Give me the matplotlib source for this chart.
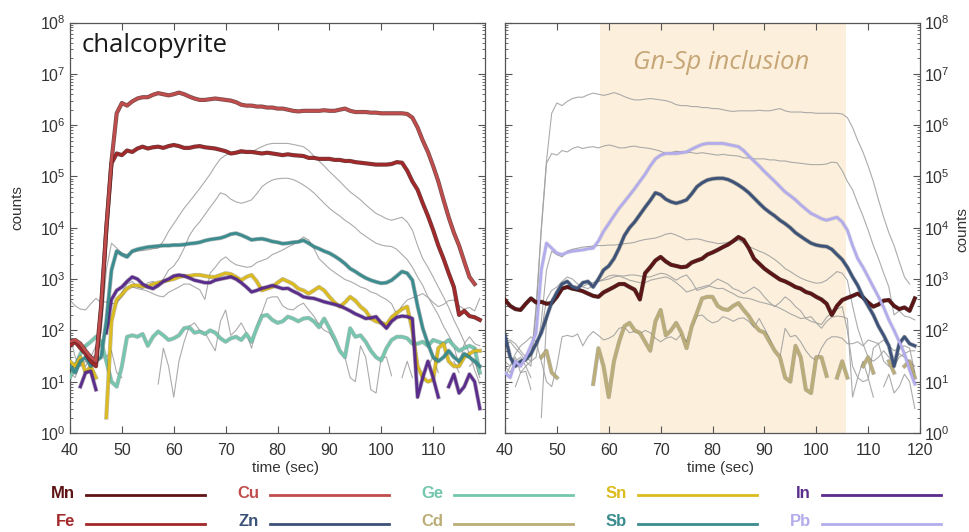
import numpy as np
import matplotlib.pyplot as plt
import matplotlib.patheffects as pe
from matplotlib.colors import to_rgb
from matplotlib.lines import Line2D
from matplotlib.ticker import LogLocator, NullFormatter

plt.rcParams['font.family'] = ['Liberation Sans', 'DejaVu Sans']
nan = np.nan

# time axis, one reading per second
time = np.arange(40, 120)

# counts per element (rows = 10 s blocks, 40..119 s)
cu = [60, 65, 55, 40, 30, 25, 300, 1e4, 2e5, 1.7e6,
      2.7e6, 2.4e6, 2.9e6, 3.3e6, 3.5e6, 3.5e6, 3.9e6, 4.2e6, 4.0e6, 3.8e6,
      4.0e6, 4.3e6, 4.0e6, 3.6e6, 3.3e6, 3.1e6, 3.1e6, 3.2e6, 3.3e6, 3.2e6,
      3.1e6, 3.0e6, 2.8e6, 2.5e6, 2.4e6, 2.4e6, 2.3e6, 2.3e6, 2.2e6, 2.2e6,
      2.1e6, 2.1e6, 2.0e6, 1.9e6, 1.85e6, 1.9e6, 1.9e6, 1.9e6, 1.9e6, 1.95e6,
      1.9e6, 1.9e6, 2.0e6, 2.1e6, 1.9e6, 1.8e6, 1.8e6, 1.8e6, 1.75e6, 1.75e6,
      1.7e6, 1.7e6, 1.7e6, 1.7e6, 1.7e6, 1.65e6, 1.4e6, 9e5, 5e5, 3e5,
      1.6e5, 8e4, 3.5e4, 1.6e4, 8e3, 4.5e3, 2.2e3, 1.1e3, 8e2, nan]
fe = [50, 60, 45, 35, 25, 20, 250, 9e3, 1.8e5, 2.8e5,
      2.6e5, 3.2e5, 3.0e5, 3.5e5, 3.8e5, 3.5e5, 3.7e5, 3.8e5, 3.6e5, 3.9e5,
      4.1e5, 3.9e5, 3.6e5, 3.6e5, 3.8e5, 3.9e5, 3.7e5, 3.6e5, 3.5e5, 3.3e5,
      3.1e5, 2.8e5, 2.9e5, 3.1e5, 3.0e5, 3.0e5, 2.9e5, 2.8e5, 2.9e5, 2.8e5,
      2.7e5, 2.6e5, 2.7e5, 2.6e5, 2.55e5, 2.5e5, 2.3e5, 2.3e5, 2.2e5, 2.2e5,
      2.2e5, 2.1e5, 2.1e5, 2.0e5, 2.0e5, 1.9e5, 1.85e5, 1.8e5, 1.75e5, 1.7e5,
      1.7e5, 1.7e5, 1.75e5, 1.9e5, 1.85e5, 1.3e5, 8e4, 5.5e4, 3e4, 1.7e4,
      9e3, 4.5e3, 2.5e3, 1.3e3, 7e2, 2e2, 2.4e2, 1.9e2, 1.8e2, 1.6e2]
sb = [20, 15, 25, 30, 20, 25, 30, 150, 1500, 3500,
      3000, 2700, 3500, 3800, 4000, 4200, 4300, 4400, 4500, 4500,
      4600, 4600, 4700, 4900, 5000, 5200, 5600, 5900, 6100, 6300,
      6800, 7500, 7800, 7200, 6500, 5800, 6000, 6100, 5800, 5400,
      5200, 4900, 5000, 5200, 5300, 5700, 5000, 4300, 3900, 3500,
      3200, 2800, 2400, 2000, 1600, 1400, 1200, 1050, 950, 880,
      830, 850, 950, 1150, 1400, 1300, 950, 300, 110, 55,
      30, 25, 30, 40, 30, 25, 35, 30, 25, 20]
in_ = [nan, nan, 8, 15, 16, 7, nan, 90, 400, 600,
       700, 900, 1100, 1000, 800, 700, 650, 750, 900, 1000,
       1150, 1200, 1150, 1050, 950, 900, 850, 850, 950, 1000,
       1050, 1100, 1000, 850, 700, 560, 600, 660, 700, 750,
       700, 650, 660, 580, 520, 450, 430, 420, 390, 360,
       340, 320, 300, 270, 240, 210, 190, 170, 175, 185,
       140, 110, 150, 180, 190, 185, 170, 5, 12, 25,
       12, 5, nan, 8, 14, 6, 8, 14, 10, 3]
sn = [25, 20, 30, 15, 20, 12, nan, 2, 150, 400,
      500, 650, 750, 750, 720, 720, 800, 850, 900, 950,
      1000, 1100, 1150, 1150, 1200, 1200, 1150, 1100, 1100, 1200,
      1300, 1250, 1100, 950, 1100, 1200, 900, 600, 650, 700,
      850, 1000, 900, 800, 650, 600, 520, 600, 700, 600,
      450, 350, 290, 350, 450, 380, 290, 240, 170, 150,
      140, 130, 180, 220, 260, 290, 100, 20, 12, 10,
      11, 45, 55, 25, 20, 20, 30, 35, 40, 40]
ge = [12, 20, 35, 50, 60, 75, 60, 25, 10, 8,
      20, 75, 80, 75, 85, 50, 75, 95, 80, 65,
      70, 80, 110, 115, 90, 95, 85, 100, 90, 70,
      60, 70, 75, 65, 85, 60, 110, 190, 200, 160,
      140, 150, 185, 170, 150, 170, 175, 150, 115, 170,
      110, 70, 40, 30, 110, 75, 80, 60, 40, 30,
      26, 45, 65, 75, 75, 70, 55, 55, 60, 50,
      65, 60, 55, 65, 50, 40, 45, 50, 45, 15]
mn = [390, 300, 260, 250, 330, 420, 350, 360, 330, 340,
      450, 650, 700, 650, 620, 580, 520, 470, 450, 550,
      620, 700, 800, 800, 700, 620, 400, 1300, 1700, 2300,
      2700, 2200, 1900, 1800, 1700, 1750, 2100, 2300, 2500, 3000,
      3300, 3700, 4200, 4700, 5500, 6600, 5800, 4000, 2500, 2000,
      1600, 1350, 1150, 980, 900, 800, 700, 650, 560, 520,
      450, 400, 330, 200, 300, 390, 430, 470, 520, 440,
      350, 290, 320, 380, 390, 300, 260, 280, 240, 420]
zn = [80, 30, 20, 25, 27, 35, 55, 90, 180, 350,
      550, 800, 900, 700, 650, 850, 900, 700, 1000, 1500,
      1800, 2500, 4000, 7000, 1.0e4, 1.3e4, 1.8e4, 2.5e4, 3.4e4, 4.8e4,
      4.4e4, 3.6e4, 3.2e4, 3.0e4, 3.2e4, 3.5e4, 4.6e4, 6.3e4, 7.5e4, 8.5e4,
      9.0e4, 9.2e4, 9.2e4, 8.7e4, 7.8e4, 6.8e4, 5.8e4, 4.8e4, 3.8e4, 3.0e4,
      2.4e4, 2.0e4, 1.7e4, 1.4e4, 1.2e4, 1.0e4, 8000, 6800, 5800, 5000,
      4600, 4400, 4300, 3800, 3000, 2400, 1700, 1100, 750, 450,
      300, 200, 120, 80, 50, 20, 55, 75, 55, 50]
pb = [15, 12, 25, 20, 30, 50, 90, 1500, 5000, 4000,
      3200, 3000, 3300, 3500, 3600, 3700, 3900, 4000, 5500, 8500,
      1.2e4, 1.7e4, 2.4e4, 3.2e4, 4.3e4, 5.8e4, 8.0e4, 1.1e5, 1.6e5, 2.2e5,
      2.6e5, 2.8e5, 2.8e5, 2.8e5, 2.9e5, 3.0e5, 3.4e5, 3.8e5, 4.2e5, 4.4e5,
      4.4e5, 4.4e5, 4.4e5, 4.2e5, 4.0e5, 3.8e5, 3.2e5, 2.5e5, 2.0e5, 1.6e5,
      1.25e5, 1.0e5, 8.0e4, 6.3e4, 5.0e4, 4.2e4, 3.5e4, 2.8e4, 2.3e4, 1.9e4,
      1.7e4, 1.5e4, 1.4e4, 1.5e4, 1.6e4, 1.3e4, 9000, 4500, 2500, 1700,
      1100, 700, 450, 280, 160, 100, 60, 35, 17, 9]
cd = [nan, nan, nan, nan, nan, nan, nan, 30, 40, 15,
      12, nan, nan, nan, nan, nan, nan, 9, 45, 20,
      5, 25, 60, 120, 140, 100, 90, 60, 40, 150,
      250, 80, 100, 140, 90, 45, 120, 220, 420, 450,
      450, 300, 260, 250, 300, 340, 250, 190, 130, 100,
      90, 60, 40, 30, 12, 10, 50, 30, 7, 6,
      30, 30, 13, nan, 12, 25, 12, nan, nan, 20,
      30, 15, nan, nan, 25, 15, nan, 20, 25, 12]

series = {'Mn': mn, 'Fe': fe, 'Cu': cu, 'Zn': zn, 'Ge': ge,
          'Cd': cd, 'Sn': sn, 'Sb': sb, 'In': in_, 'Pb': pb}
colors = {'Mn': '#5e1414', 'Fe': '#a3282a', 'Cu': '#c04c4c', 'Zn': '#3d5278',
          'Ge': '#74c6ae', 'Cd': '#bbad78', 'Sn': '#dcbb1e', 'Sb': '#3b8c8e',
          'In': '#5a2c8c', 'Pb': '#b3acec'}
edge_alpha = {'Mn': 0.8, 'Fe': 0.8, 'Cu': 0.8, 'Pb': 0.15}
legend_cols = [['Mn', 'Fe'], ['Cu', 'Zn'], ['Ge', 'Cd'], ['Sn', 'Sb'], ['In', 'Pb']]

left_hl = ['Ge', 'Sn', 'In', 'Sb', 'Fe', 'Cu']
right_hl = ['Cd', 'Mn', 'Zn', 'Pb']


def darker(c, f=0.45):
    r, g, b = to_rgb(c)
    return (r * f, g * f, b * f)


def draw_panel(ax, highlight):
    for name, vals in series.items():
        if name not in highlight:
            ax.plot(time, vals, color='#a2a2a2', lw=0.8, alpha=0.9, zorder=2)
    for name in highlight:
        c = colors[name]
        a = edge_alpha.get(name, 0.4)
        ax.plot(time, series[name], color=c, lw=2.0, zorder=3,
                path_effects=[pe.Stroke(linewidth=3.0, foreground=darker(c), alpha=a),
                              pe.Normal()])
    ax.set_yscale('log')
    ax.set_ylim(1, 1e8)
    ax.set_xlim(40, 120)
    ax.yaxis.set_major_locator(LogLocator(base=10, numticks=20))
    ax.yaxis.set_minor_locator(LogLocator(base=10, subs=np.arange(2, 10), numticks=20))
    ax.yaxis.set_minor_formatter(NullFormatter())
    ax.tick_params(which='both', direction='in', top=True, right=True,
                   colors='#555555', labelcolor='#333333', labelsize=11.5)
    ax.tick_params(which='major', length=5, width=0.8)
    ax.tick_params(which='minor', length=2.5, width=0.6)
    ax.tick_params(axis='x', pad=7)
    ax.tick_params(axis='y', pad=3)
    for s in ax.spines.values():
        s.set_color('#555555')
        s.set_linewidth(0.9)
    ax.set_xlabel('time (sec)', fontsize=11, color='#333333', labelpad=0)
    ax.xaxis.set_label_coords(0.52, -0.068)


fig = plt.figure(figsize=(9.69, 5.32), dpi=100)
ax1 = fig.add_axes([70 / 969, 1 - 433 / 532, 415 / 969, 410.5 / 532])
ax2 = fig.add_axes([505 / 969, 1 - 433 / 532, 415 / 969, 410.5 / 532])

ax2.axvspan(58.3, 105.8, color='#fcf0dc', lw=0, zorder=0)

draw_panel(ax1, left_hl)
draw_panel(ax2, right_hl)

ax1.set_xticks(np.arange(40, 120, 10))
ax2.set_xticks(np.arange(40, 121, 10))

ax1.set_ylabel('counts', fontsize=11, color='#333333')
ax1.yaxis.set_label_coords(-0.111, 0.55)
ax2.tick_params(axis='y', labelleft=False, labelright=True)
ax2.yaxis.set_label_position('right')
ax2.set_ylabel('counts', fontsize=11, color='#333333')
ax2.yaxis.set_label_coords(1.085, 0.495)

ax1.text(42.3, 10 ** 7.56, 'chalcopyrite', fontsize=18.5, family='Open Sans',
         color='#1a1a1a', va='center', ha='left')
ax2.text(81.6, 10 ** 7.22, 'Gn-Sp inclusion', fontsize=18.5, family='Open Sans',
         style='italic', color='#c6a676', va='center', ha='center')

# legend drawn below the panels
row_y = [493, 522]
for i, pair in enumerate(legend_cols):
    x0 = 86 + i * 184
    for j, name in enumerate(pair):
        y = 1 - row_y[j] / 532
        fig.text((x0 - 11) / 969, y, name, color=colors[name], fontsize=12,
                 fontweight='bold', ha='right', va='center')
        fig.add_artist(Line2D([x0 / 969, (x0 + 119) / 969], [y - 0.004, y - 0.004],
                              color=colors[name], lw=2.0, transform=fig.transFigure))

fig.savefig('out.png', dpi=100)
